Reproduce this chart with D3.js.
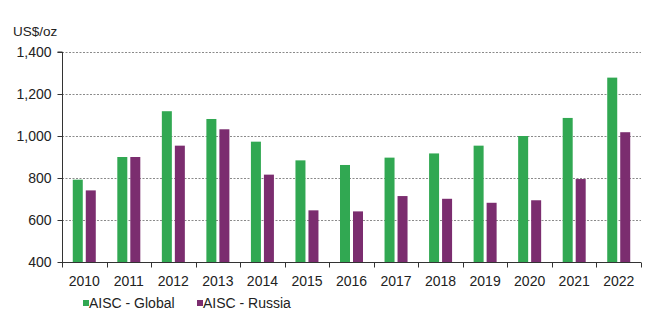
<!DOCTYPE html>
<html><head><meta charset="utf-8">
<script src="https://cdn.jsdelivr.net/npm/d3@7"></script>
<style>body{margin:0;background:#fff;}svg{display:block;font-family:"Liberation Sans",Arial,sans-serif;}</style>
</head><body>
<svg id="chart" width="670" height="329"></svg>
<script>
const years = ["2010","2011","2012","2013","2014","2015","2016","2017","2018","2019","2020","2021","2022"];
const aiscGlobal = [792, 900, 1118, 1081, 973, 884, 862, 897, 917, 954, 1000, 1086, 1278];
const aiscRussia = [741, 900, 954, 1032, 816, 646, 641, 714, 701, 682, 694, 795, 1018];
const seriesNames = ["AISC - Global", "AISC - Russia"];
const yTicks = [400, 600, 800, 1000, 1200, 1400];

(function () {
const colors = ["#31a852", "#7b2d6f"];
const fs = 14;
const svg = d3.select("#chart");
const mLeft = 62, mRight = 641, mTop = 52, mBottom = 262;

const x = d3.scaleBand().domain(years).range([mLeft, mRight]);
const y = d3.scaleLinear().domain([400, 1400]).range([mBottom, mTop]);

// gridlines
svg.append("g").selectAll("line").data(yTicks.filter(t => t > 400)).join("line")
  .attr("x1", mLeft).attr("x2", mRight)
  .attr("y1", d => y(d) + 0.5).attr("y2", d => y(d) + 0.5)
  .attr("stroke", "#8a8a8a").attr("stroke-width", 1).attr("stroke-dasharray", "2,1.5");

// bars
const bw = 10, gap = 3;
const data = [aiscGlobal, aiscRussia];
data.forEach((vals, s) => {
  svg.append("g").selectAll("rect").data(vals).join("rect")
    .attr("x", (d, i) => x(years[i]) + x.bandwidth() / 2 - bw - gap / 2 + s * (bw + gap))
    .attr("y", d => y(d))
    .attr("width", bw)
    .attr("height", d => y(400) - y(d))
    .attr("fill", colors[s]);
});

// y axis
const yAxis = d3.axisLeft(y).tickValues(yTicks).tickSize(5).tickPadding(6)
  .tickFormat(d3.format(","));
const gy = svg.append("g").attr("transform", `translate(${mLeft + 0.5},0)`).call(yAxis);
gy.select(".domain").attr("stroke", "#333").attr("d", `M-5,${mTop}H0V${mBottom}`);
gy.selectAll(".tick line").attr("stroke", "#333");
gy.selectAll("text").attr("font-size", fs).attr("fill", "#222")
  .attr("font-family", "'Liberation Sans', Arial, sans-serif");

// x axis
const gx = svg.append("g").attr("transform", `translate(0,${mBottom + 0.5})`);
gx.append("line").attr("x1", mLeft).attr("x2", mRight).attr("stroke", "#333");
const bounds = years.map(yr => x(yr)).concat([mRight]);
gx.selectAll(".tk").data(bounds).join("line").attr("class", "tk")
  .attr("x1", d => Math.round(d) + 0.5).attr("x2", d => Math.round(d) + 0.5)
  .attr("y1", 0).attr("y2", 5).attr("stroke", "#333");
gx.selectAll("text").data(years).join("text")
  .attr("x", d => x(d) + x.bandwidth() / 2)
  .attr("y", 23.5)
  .attr("text-anchor", "middle").attr("font-size", fs).attr("fill", "#222")
  .text(d => d);

// unit label
svg.append("text").attr("x", 13).attr("y", 35.5).attr("font-size", 13.5).attr("fill", "#222").text("US$/oz");

// legend
const legX = [83, 197];
seriesNames.forEach((n, i) => {
  svg.append("rect").attr("x", legX[i]).attr("y", 300).attr("width", 6).attr("height", 6).attr("fill", colors[i]);
  svg.append("text").attr("x", legX[i] + 6).attr("y", 308).attr("font-size", fs).attr("fill", "#222").text(n);
});
})();
</script>
</body></html>
